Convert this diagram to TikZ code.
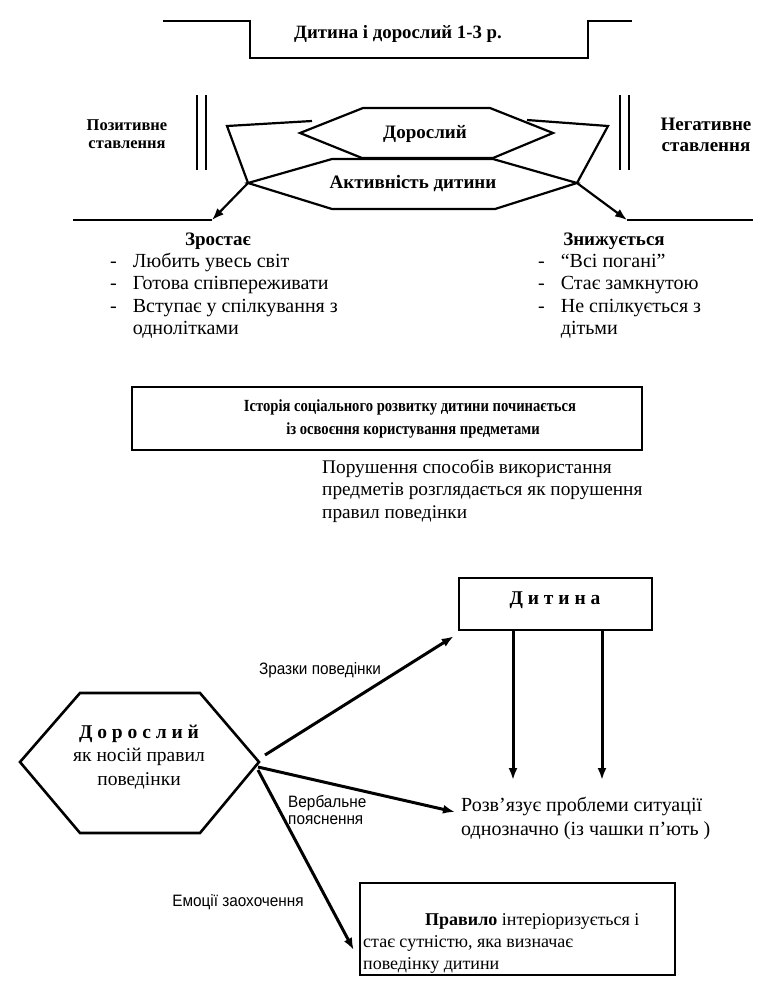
\documentclass[tikz,border=0pt]{standalone}
\usepackage{fontspec}
\setmainfont{Liberation Serif}
\newfontfamily\narrowfont[FakeStretch=0.93]{Liberation Sans}
\newfontfamily\condensedserif[FakeStretch=0.86]{Liberation Serif}
\usetikzlibrary{arrows.meta}
\tikzset{>={Latex[length=12pt,width=9pt]}}
\tikzset{
  outline/.style = {line width=2.2pt, line join=miter},
  thin arrow/.style = {->, line width=2.2pt},
  heavy/.style = {->, line width=3pt},
  headtext/.style = {font=\bfseries\fontsize{19}{21}\selectfont, align=center, inner sep=0pt},
  sidetext/.style = {font=\bfseries\fontsize{16.5}{18}\selectfont, align=center, inner sep=0pt},
  plaintext/.style = {font=\fontsize{20}{22.6}\selectfont, align=left, inner sep=0pt},
  smalltext/.style = {font=\narrowfont\fontsize{16.5}{17}\selectfont, align=left, inner sep=0pt},
  framebox/.style = {draw, line width=2.2pt, inner sep=0pt}
}

\begin{document}
\begin{tikzpicture}[x=1pt,y=-1pt]
  \useasboundingbox (0,0) rectangle (778,996);
  % title bracket
  \draw[outline] (163,21) -- (250,21) -- (250,58) -- (588,58) -- (588,21) -- (632,21);
  \node[headtext, font=\bfseries\fontsize{18.8}{21}\selectfont] (title) at (398,34) {Дитина і дорослий 1-3 р.};
  % hexagons
  \draw[outline] (300,133) -- (363,108) -- (490,108) -- (553,133) -- (493,158) -- (362,158) -- cycle;
  \node[headtext] (adulttop) at (425,134) {Дорослий};
  \draw[outline,fill=white] (248,183) coordinate (actW) -- (332,159) -- (493,159) -- (577,183) coordinate (actE) -- (495,209) -- (332,209) -- cycle;
  \node[headtext] (activity) at (413,184) {Активність дитини};
  % side wings
  \draw[outline] (312,121) -- (227,126) -- (actW);
  \draw[outline] (527,120) -- (608,126) -- (actE);
  \draw[outline] (197,95) -- (197,170) (206,95) -- (206,170);
  \draw[outline] (620,95) -- (620,170) (629,95) -- (629,170);
  \node[sidetext] (positive) at (127,134) {Позитивне\\ставлення};
  \node[sidetext, font=\bfseries\fontsize{19}{21}\selectfont] (negative) at (706,135) {Негативне\\ставлення};
  % arrows down
  \coordinate (posend) at (212,220);
  \coordinate (negend) at (627,220);
  \draw[thin arrow] (actW) -- (posend);
  \draw[thin arrow] (actE) -- (negend);
  \draw[outline] (73,220) -- (posend);
  \draw[outline] (negend) -- (753,220);
  % lists
  \node[headtext] (grows) at (218,241) {Зростає};
  \node[headtext] (falls) at (614,241) {Знижується};
  \node[plaintext, anchor=north west] (growlist) at (110,251) {\begin{tabular}{@{}l@{\hspace{16pt}}l@{}}
    - & Любить увесь світ\\
    - & Готова співпереживати\\
    - & Вступає у спілкування з\\
      & однолітками
  \end{tabular}};
  \node[plaintext, anchor=north west] (falllist) at (538,251) {\begin{tabular}{@{}l@{\hspace{16pt}}l@{}}
    - & “Всі погані”\\
    - & Стає замкнутою\\
    - & Не спілкується з\\
      & дітьми
  \end{tabular}};
  % history box
  \node[framebox, line width=1.8pt, minimum width=510pt, minimum height=63pt] (history) at (387,418.5) {};
  \node[headtext, font=\condensedserif\bfseries\fontsize{17}{23}\selectfont] (historytext) at (410,419) {Історія соціального розвитку дитини починається\\\hspace*{6pt}із освоєння користування предметами};
  \node[plaintext, font=\fontsize{19.3}{22.5}\selectfont, anchor=west] (violation) at (322,491) {Порушення способів використання\\предметів розглядається як порушення\\правил поведінки};
  % adult as carrier of rules
  \draw[outline, line width=2.6pt] (20,762) -- (80,693) -- (200,693) -- (259,762) coordinate (adultE) -- (200,833) -- (80,833) -- cycle;
  \node[plaintext, align=center, font=\fontsize{19.5}{23.5}\selectfont] (adult) at (139,757) {\textbf{Д о р о с л и й}\\як носій правил\\поведінки};
  \node[framebox, line width=2.6pt, minimum width=193pt, minimum height=52pt] (child) at (555.5,604) {};
  \node[headtext, font=\bfseries\fontsize{19.5}{21}\selectfont] (childtext) at (555,600) {Д и т и н а};
  \node[plaintext, font=\fontsize{20}{24}\selectfont, anchor=north west] (solves) at (461,797) {Розв’язує проблеми ситуації\\однозначно (із чашки п’ють )};
  \node[framebox, line width=2.6pt, minimum width=315pt, minimum height=92pt] (rule) at (517.5,929) {};
  \node[plaintext, font=\fontsize{18}{22}\selectfont, anchor=north west] (ruletext) at (363,913) {\hspace*{62pt}\textbf{Правило} інтеріоризується і\\стає сутністю, яка визначає\\поведінку дитини};
  % connectors
  \coordinate (down1) at (513,780);
  \coordinate (down2) at (602,780);
  \draw[heavy] (child.south -| down1) -- (down1);
  \draw[heavy] (child.south -| down2) -- (down2);
  \draw[heavy] ([shift={(6,-7)}]adultE) -- ([shift={(-4,5)}]child.south west);
  \draw[heavy] ([shift={(-1,5)}]adultE) -- ([shift={(-6,15)}]solves.north west);
  \draw[heavy] ([shift={(-1,8)}]adultE) -- ([shift={(-5,21)}]rule.west);
  \node[smalltext] (samples) at (320,670) {Зразки поведінки};
  \node[smalltext, anchor=west] (verbal) at (288,810) {Вербальне\\пояснення};
  \node[smalltext] (emotions) at (238,902) {Емоції заохочення};
\end{tikzpicture}
\end{document}
